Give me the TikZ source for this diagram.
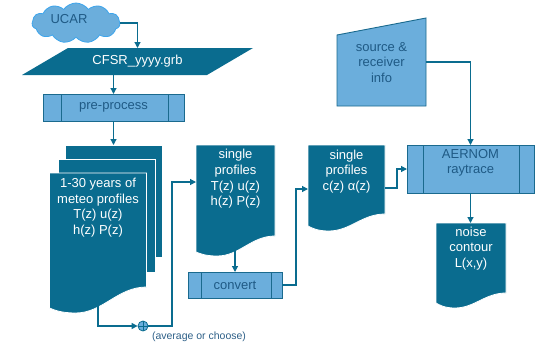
\documentclass[tikz,border=0pt]{standalone}
\usepackage{fontspec}
\setmainfont{Liberation Sans}
\usetikzlibrary{arrows.meta,shapes.symbols,calc}
\definecolor{docfill}{HTML}{0A6C8F}
\definecolor{lightfill}{HTML}{6BAEDC}
\definecolor{boxline}{HTML}{1A6A8E}
\definecolor{darktxt}{HTML}{1F5A85}
\definecolor{cloudline}{HTML}{3DA5EC}
\definecolor{labeltxt}{HTML}{2E6088}
\tikzset{
  base/.style={font=\fontsize{13pt}{15.6pt}\selectfont, inner sep=0pt, align=center},
  body/.style={inner sep=0pt, outer sep=0pt},
  docshp/.style={fill=docfill, draw=white, line width=0.8pt},
  sheet/.style={body, fill=docfill, draw=white, line width=0.8pt, minimum width=97pt},
  proc/.style 2 args={draw=boxline, fill=lightfill, line width=0.9pt, text=darktxt,
    font=\fontsize{13pt}{15.6pt}\selectfont, align=center, inner sep=0pt, outer sep=0pt,
    path picture={\draw[boxline, line width=0.9pt]
      ([xshift=#1]path picture bounding box.north west) -- ([xshift=#1]path picture bounding box.south west)
      ([xshift=-#2]path picture bounding box.north east) -- ([xshift=-#2]path picture bounding box.south east);}},
  conn/.style={draw=docfill, line width=1.2pt, -{Triangle[length=6pt,width=6pt]}},
}
\newcommand\docshape[3]{%
  \path[docshp] let \p1=(#1.south west), \p2=(#1.south east), \p3=(#1.north west), \p4=(#1.north east), \n1={\x2-\x1} in
  (\p3) -- (\p4) -- (\p2)
  .. controls ({\x1+0.7*\n1},\y2) and ({\x1+0.55*\n1},{\y2-#2-#3}) .. ({\x1+0.27*\n1},{\y2-#2-#3})
  .. controls ({\x1+0.12*\n1},{\y2-#2-#3}) and ({\x1+0.05*\n1},{\y1-#2-0.4*#3}) .. (\x1,{\y1-#2}) -- cycle;}
\begin{document}
\begin{tikzpicture}[x=1pt,y=-1pt]
\useasboundingbox (0,0) rectangle (535,343);

% cloud
\node[cloud, cloud puffs=11, cloud puff arc=110, cloud ignores aspect, minimum width=88pt, minimum height=40pt,
  fill=lightfill, draw=cloudline, line width=0.8pt, inner sep=0pt] (ucar) at (76,23) {};
\node[base, text=darktxt] (ucartxt) at (69,19) {UCAR};

% parallelogram
\node[body, minimum width=185pt, minimum height=27pt] (cfsr) at (137.5,61.5) {};
\fill[docfill] ([xshift=-23pt]cfsr.south west) -- ([xshift=-23pt]cfsr.south east)
  -- ([xshift=23pt]cfsr.north east) -- ([xshift=23pt]cfsr.north west) -- cycle;
\node[base, text=white] (cfsrtxt) at (137.5,61) {CFSR\_yyyy.grb};

% pre-process
\node[proc={18pt}{16pt}, minimum width=141pt, minimum height=27pt] (pre) at (113.5,107.5) {pre-process};

% stack of sheets
\node[sheet, minimum height=112pt] (back) at (113.5,201) {};
\node[sheet, minimum height=113pt] (mid) at (106.5,215.5) {};
\node[body, minimum width=97pt, minimum height=114pt] (front) at (98,230) {};
\docshape{front}{21}{5}
\node[base, text=white] (fronttxt) at (98,207.5) {1-30 years of\\meteo profiles\\T(z) u(z)\\h(z) P(z)};

% single profiles 1
\node[body, minimum width=79pt, minimum height=91pt] (d1) at (235.5,190.5) {};
\docshape{d1}{16}{4}
\node[base, text=white] (d1txt) at (235.5,179) {single\\profiles\\T(z) u(z)\\h(z) P(z)};

% convert
\node[proc={13pt}{11pt}, minimum width=94pt, minimum height=26pt] (conv) at (235,285) {convert};

% single profiles 2
\node[body, minimum width=77pt, minimum height=69pt] (d2) at (346.5,179.5) {};
\docshape{d2}{12}{5}
\node[base, text=white] (d2txt) at (346.5,171.5) {single\\profiles\\c(z) α(z)};

% source & receiver info
\node[body, minimum width=89pt, minimum height=88pt] (src) at (381.5,62) {};
\path[fill=lightfill, draw=boxline, line width=0.9pt] (src.south west) -- (src.south east) -- (src.north east)
  -- ([yshift=-17pt]src.north west) -- cycle;
\node[base, text=darktxt] (srctxt) at (381.5,62.5) {source \&\\receiver\\info};

% AERNOM
\node[proc={16pt}{15pt}, minimum width=127pt, minimum height=48pt] (aer) at (470.5,169) {};
\node[base, text=darktxt] (aertxt) at (470.5,163) {AERNOM\\raytrace};

% noise contour
\node[body, minimum width=70pt, minimum height=70pt] (d3) at (471,258) {};
\docshape{d3}{10}{5}
\node[base, text=white] (d3txt) at (471,248.5) {noise\\contour\\L(x,y)};

% junction
\node[circle, minimum size=10pt, inner sep=0pt, fill=lightfill, draw=docfill, line width=0.8pt,
  path picture={\draw[docfill, line width=0.8pt] (path picture bounding box.north) -- (path picture bounding box.south)
  (path picture bounding box.west) -- (path picture bounding box.east);}] (circ) at (143,326) {};
\node[font=\fontsize{10.5pt}{12pt}\selectfont, text=labeltxt, inner sep=0pt] (lbl) at (199,337) {(average or choose)};

% connectors
\coordinate (j1) at (172,182);
\coordinate (j2) at (296,189);
\coordinate (j3) at (397,188);
\draw[conn] (ucar.east) -| (cfsr.north);
\draw[conn] (cfsr.south -| pre.north) -- (pre.north);
\draw[conn] (pre.south) -- (back.north);
\draw[conn] (front.south) |- (circ.west);
\draw[conn] (circ.east) -| (j1) -- (j1 -| d1.west);
\draw[conn] (conv.north |- d1.south) -- (conv.north);
\draw[conn] (conv.east) -| (j2) -- (j2 -| d2.west);
\draw[conn] (j3 -| d2.east) -- (j3) |- (aer.west);
\draw[conn] (src.east) -| (aer.north);
\draw[conn] (aer.south) -- (aer.south |- d3.north);
\end{tikzpicture}
\end{document}
